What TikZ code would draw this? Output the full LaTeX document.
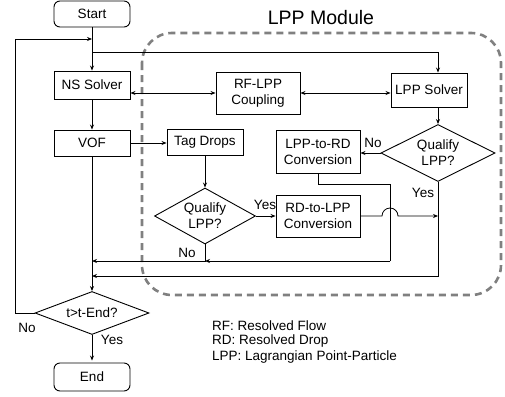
\documentclass[tikz,border=0pt]{standalone}
\usepackage{fontspec}
\setmainfont{Liberation Sans}
\usetikzlibrary{shapes.geometric,arrows.meta}
\begin{document}
\begin{tikzpicture}[x=1pt,y=-1pt,
  font=\fontsize{13.5}{16}\selectfont,
  box/.style={draw,line width=0.9pt,align=center,inner sep=1pt,minimum width=#1},
  box/.default=76pt,
  term/.style={box,rounded corners=6pt},
  dec/.style={draw,line width=0.9pt,diamond,aspect=1.8,inner sep=0pt,align=center},
  arr/.style={line width=0.8pt,-{Stealth[length=5pt,width=4pt]}},
  dual/.style={line width=0.8pt,{Stealth[length=5pt,width=4pt]}-{Stealth[length=5pt,width=4pt]}},
  ln/.style={line width=0.8pt},
  lbl/.style={inner sep=0pt}]
\useasboundingbox (0,0) rectangle (505,396);
% dashed module frame
\draw[gray,line width=2.6pt,dash pattern=on 7pt off 5pt,rounded corners=30pt] (142,33) rectangle (501,295);
\node[font=\fontsize{19.5}{22}\selectfont] (title) at (321,18) {LPP Module};
% nodes
\node[term,minimum height=26pt] (start) at (92,14) {Start};
\node[box,minimum height=28pt] (ns) at (92,85) {NS Solver};
\node[box,minimum height=26pt] (vof) at (92,143) {VOF};
\node[box,minimum height=26pt] (tag) at (205,142) {Tag Drops};
\node[box=84pt,minimum height=42pt] (rf) at (258,93) {RF-LPP\\Coupling};
\node[box,minimum height=34pt] (lpps) at (429,90) {LPP Solver};
\node[box=84pt,minimum height=43pt] (l2r) at (318,152) {LPP-to-RD\\Conversion};
\node[box=84pt,minimum height=42pt] (r2l) at (318,216) {RD-to-LPP\\Conversion};
\node[dec,minimum width=114pt,minimum height=57pt] (q2) at (438,153) {Qualify\\LPP?};
\node[dec,minimum width=101pt,minimum height=56pt] (q1) at (205,216) {Qualify\\LPP?};
\node[dec,minimum width=114pt,minimum height=43pt] (tend) at (92,313) {t>t-End?};
\node[term,minimum height=28pt] (end) at (92,377) {End};
% helper coordinates
\coordinate (loopin) at (92,39);
\coordinate (lx) at (15,39);
\coordinate (br) at (92,52);
\coordinate (c1) at (390,184);
\coordinate (c2) at (390,261);
\coordinate (c3) at (438,276);
% connectors
\draw[arr] (start) -- (ns);
\draw[arr] (tend.west) -- (tend.west -| lx) |- (loopin);
\draw[arr] (br) -| (q2.north |- lpps.north);
\draw[arr] (q2.north |- lpps.south) -- (q2.north);
\draw[dual] (ns.east |- rf) -- (rf.west);
\draw[dual] (rf.east) -- (lpps.west |- rf);
\draw[arr] (ns) -- (vof);
\draw[arr] (vof.east) -- (tag.west |- vof.east);
\draw[arr] (tag) -- (q1.north);
\draw[arr] (q1.east) -- (r2l.west);
\draw[arr] (r2l.east) -- (382,216) arc (180:360:8) -- (q2.south |- r2l.east);
\draw[arr] (q2.west) -- (l2r.east |- q2.west);
\draw[ln] (l2r.south) |- (c1) -- (c2);
\draw[arr] (c2) -- (q1.south |- c2);
\draw[arr] (q1.south) |- (vof.south |- c2);
\draw[arr] (q2.south) |- (vof.south |- c3);
\draw[arr] (vof.south) -- (tend.north);
\draw[arr,shorten >=2pt] (tend.south) -- (end.north);
% labels
\node[lbl] (no3) at (27,328) {No};
\node[lbl] (yes3) at (112,340) {Yes};
\node[lbl] (no1) at (187,253) {No};
\node[lbl] (yes1) at (265,205) {Yes};
\node[lbl] (no2) at (373,143) {No};
\node[lbl] (yes2) at (423,193) {Yes};
\node[lbl,anchor=west] (leg1) at (212,326) {RF: Resolved Flow};
\node[lbl,anchor=west] (leg2) at (212,341) {RD: Resolved Drop};
\node[lbl,anchor=west] (leg3) at (212,357) {LPP: Lagrangian Point-Particle};
\end{tikzpicture}
\end{document}
